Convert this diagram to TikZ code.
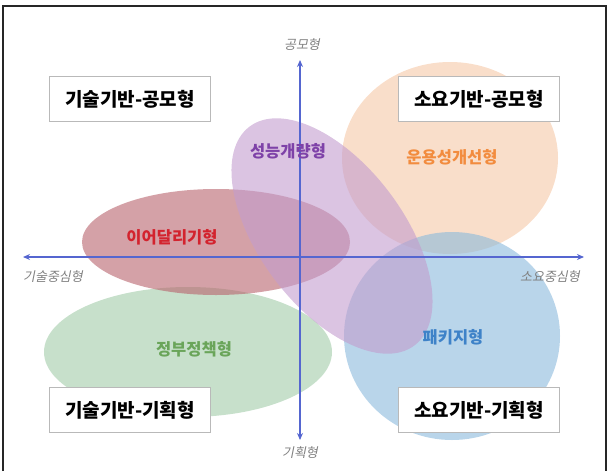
\documentclass[tikz,border=0pt]{standalone}
\usepackage{fontspec}
\setmainfont{Noto Sans CJK KR}
\newfontfamily\axisfont{Noto Sans CJK KR}[FakeSlant=0.2]
\usetikzlibrary{shapes.geometric,arrows.meta}

\definecolor{peach}{HTML}{F5C8A7}
\definecolor{sky}{HTML}{8AB9DC}
\definecolor{lilac}{HTML}{C39CCE}
\definecolor{rose}{HTML}{B8636C}
\definecolor{sage}{HTML}{A2CBA8}
\definecolor{axisblue}{HTML}{5566D0}
\definecolor{peachtext}{HTML}{F28C3F}
\definecolor{skytext}{HTML}{3E82C8}
\definecolor{lilactext}{HTML}{7E42A8}
\definecolor{rosetext}{HTML}{D3232E}
\definecolor{sagetext}{HTML}{6AA55A}

\begin{document}
\begin{tikzpicture}
	[x=1pt, y=-1pt,
		blob/.style		={ellipse
									, inner sep=0pt
									, fill opacity=0.6
									},
		quadrant/.style	={rectangle
									, draw=gray!55
									, line width=0.8pt
									, fill=white
									, minimum width=161pt
									, minimum height=45pt
									, font=\fontsize{19}{21}\selectfont\bfseries
									},
		tag/.style			={font=\fontsize{16.5}{18}\selectfont\bfseries
									},
		axislabel/.style	={text=gray
									, font=\axisfont\fontsize{13}{15}\selectfont
									},
		axis/.style			={draw=axisblue
									, line width=1.6pt
									, {Stealth[length=7pt,width=6pt]}-{Stealth[length=7pt,width=6pt]}
									}
	]
\useasboundingbox (0,0) rectangle (610,471);
% frame
\draw [line width=1.2pt, black!85] (3,471) -- (3,6) -- (606,6) -- (606,471);

% blobs
\node [blob, fill=peach, minimum width=216pt, minimum height=192pt] (operation blob) at (450,158) {};
\node [blob, fill=sky, minimum width=216pt, minimum height=208pt] (package blob) at (452,336) {};
\node [blob, fill=sage, minimum width=288pt, minimum height=130pt] (policy blob) at (188,352) {};
\node [blob, fill=rose, minimum width=268pt, minimum height=106pt] (relay blob) at (216,242) {};
\node [blob, fill=lilac, minimum width=274pt, minimum height=144pt, rotate=-53] (upgrade blob) at (332,236) {};

% axes
\coordinate (west) at (23,257);
\coordinate (east) at (584,257);
\coordinate (north) at (300,60);
\coordinate (south) at (300,440);
\path [axis] (west) -- (east);
\path [axis] (north) -- (south);

\node [axislabel] (west label) at (53,277) {기술중심형};
\node [axislabel] (east label) at (550,277) {소요중심형};
\node [axislabel] (north label) at (302,45) {공모형};
\node [axislabel] (south label) at (300,453) {기획형};

% blob labels
\node [tag, text=peachtext] (operation) at (452,157) {운용성개선형};
\node [tag, text=skytext] (package) at (453,337) {패키지형};
\node [tag, text=sagetext] (policy) at (194,349) {정부정책형};
\node [tag, text=rosetext] (relay) at (172,237) {이어달리기형};
\node [tag, text=lilactext] (upgrade) at (288,151) {성능개량형};

% quadrants
\node [quadrant] (tech call) at (130,99) {기술기반-공모형};
\node [quadrant] (need call) at (479,99) {소요기반-공모형};
\node [quadrant] (tech plan) at (130,410) {기술기반-기획형};
\node [quadrant] (need plan) at (479,410) {소요기반-기획형};
\end{tikzpicture}
\end{document}
